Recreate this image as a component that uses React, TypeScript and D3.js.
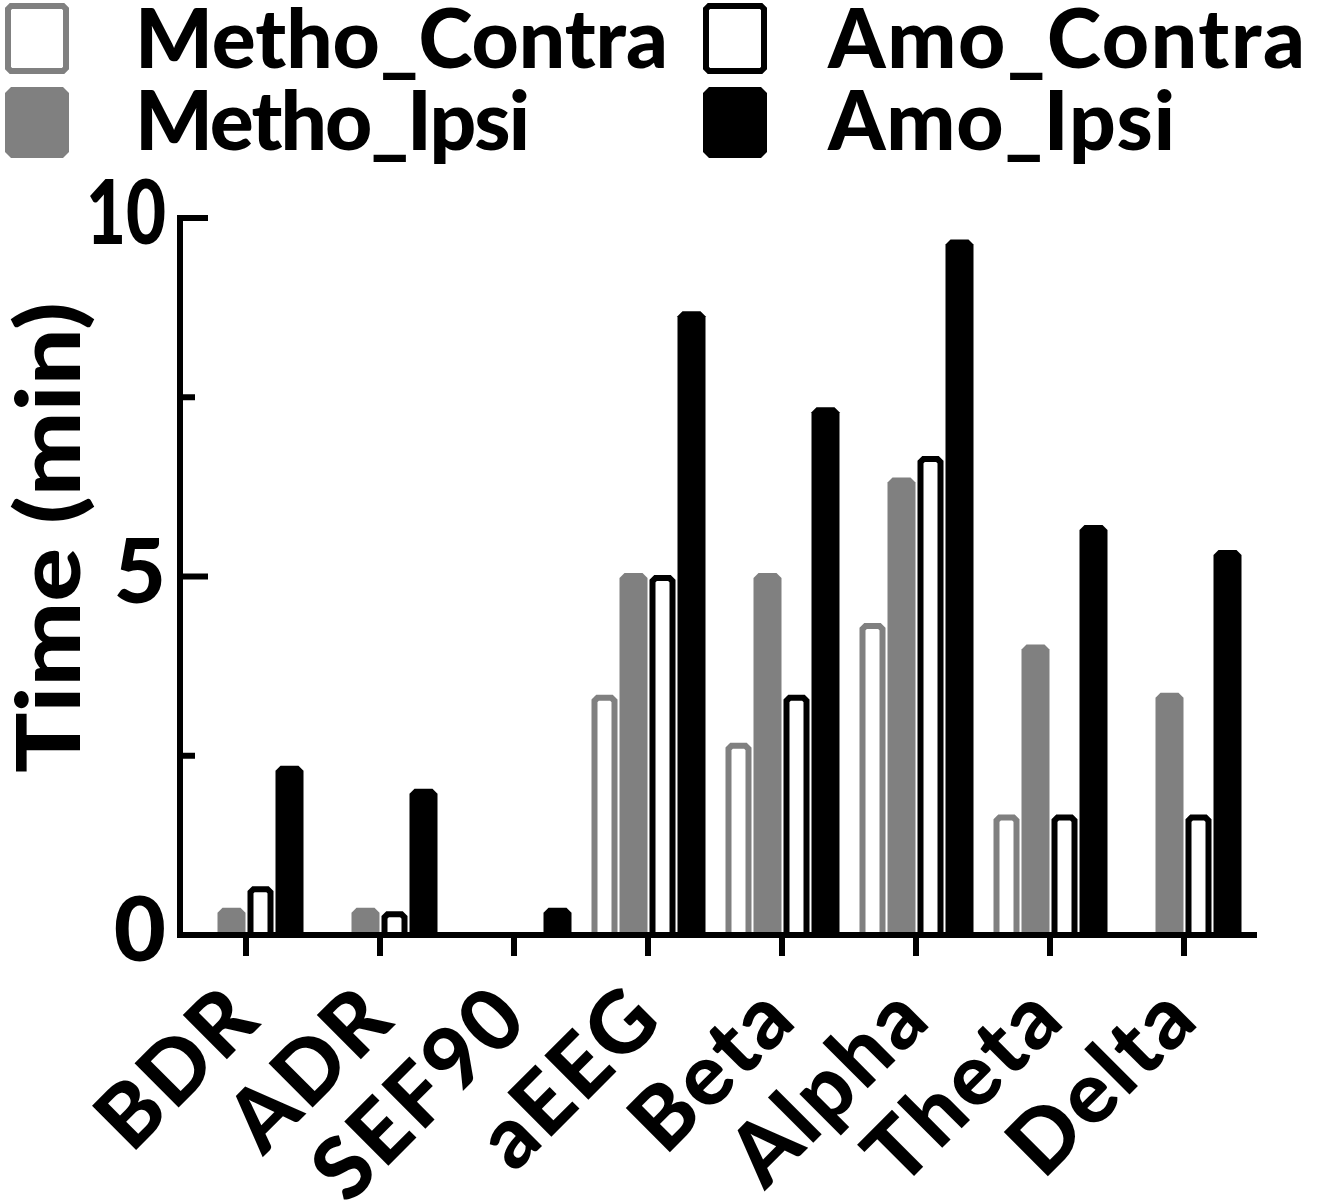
import React from "react";
import * as d3 from "d3";

const categories = ["BDR", "ADR", "SEF90", "aEEG", "Beta", "Alpha", "Theta", "Delta"];
const seriesNames = ["Metho_Contra", "Metho_Ipsi", "Amo_Contra", "Amo_Ipsi"];
const methoContra = [0, 0, 0, 3.35, 2.68, 4.35, 1.68, 0];
const methoIpsi = [0.38, 0.38, 0, 5.05, 5.05, 6.38, 4.05, 3.38];
const amoContra = [0.68, 0.33, 0, 5.02, 3.35, 6.68, 1.68, 1.68];
const amoIpsi = [2.36, 2.04, 0.38, 8.7, 7.36, 9.7, 5.72, 5.37];
const majorTicks = [0, 5, 10];
const minorTicks = [2.5, 7.5];

const W = 1342;
const H = 1203;
const FONT = "Lato, 'DejaVu Sans', sans-serif";

const seriesValues = [methoContra, methoIpsi, amoContra, amoIpsi];
const seriesStyle = [
  { fill: "#ffffff", stroke: "#808080", outline: true },
  { fill: "#808080", stroke: "none", outline: false },
  { fill: "#ffffff", stroke: "#000000", outline: true },
  { fill: "#000000", stroke: "none", outline: false },
];

function chamferPath(x0: number, x1: number, yTop: number, yBot: number, c: number) {
  const cc = Math.min(c, (x1 - x0) / 2, Math.max(0, (yBot - yTop) / 2));
  return `M${x0},${yBot}L${x0},${yTop + cc}L${x0 + cc},${yTop}L${x1 - cc},${yTop}L${x1},${yTop + cc}L${x1},${yBot}Z`;
}

function boxPath(x0: number, y0: number, x1: number, y1: number, c: number) {
  return `M${x0},${y0 + c}L${x0 + c},${y0}L${x1 - c},${y0}L${x1},${y0 + c}L${x1},${y1 - c}L${x1 - c},${y1}L${x0 + c},${y1}L${x0},${y1 - c}Z`;
}

export default function App() {
  const axisX = 180;
  const x = d3.scaleBand<string>().domain(categories).range([179, 179 + 134 * 8]).padding(0);
  const y = d3.scaleLinear().domain([0, 10]).range([935, 218]);
  const groupW = 116;

  const bars: JSX.Element[] = [];
  categories.forEach((cat, i) => {
    const cx = (x(cat) as number) + x.bandwidth() / 2;
    const inner = d3.scaleBand<string>().domain(seriesNames).range([cx - groupW / 2, cx + groupW / 2]).padding(0);
    seriesNames.forEach((s, k) => {
      const v = seriesValues[k][i];
      if (!v) return;
      const st = seriesStyle[k];
      const bx = inner(s) as number;
      const bw = inner.bandwidth();
      const yTop = y(v);
      const yBot = y(0);
      if (st.outline) {
        bars.push(
          <path key={`${cat}-${s}`} d={chamferPath(bx + 4.5, bx + bw - 4.5, yTop + 3, yBot, 3)}
            fill={st.fill} stroke={st.stroke} strokeWidth={6} />
        );
      } else {
        bars.push(
          <path key={`${cat}-${s}`} d={chamferPath(bx + 0.5, bx + bw - 0.5, yTop, yBot, 5)} fill={st.fill} />
        );
      }
    });
  });

  const legendItems = [
    { name: seriesNames[0], bx: 5, by: 3, tx: 135, ty: 68, tw: 533 },
    { name: seriesNames[1], bx: 5, by: 87, tx: 135, ty: 150, tw: 395 },
    { name: seriesNames[2], bx: 703, by: 3, tx: 828, ty: 68, tw: 477 },
    { name: seriesNames[3], bx: 703, by: 87, tx: 828, ty: 150, tw: 347 },
  ];

  return (
    <svg width={W} height={H} style={{ position: "absolute", left: 0, top: 0, background: "#fff" }}
      fontFamily={FONT} fontWeight={900}>
      <rect x={0} y={0} width={W} height={H} fill="#fff" />
      {legendItems.map((it, k) => {
        const st = seriesStyle[k];
        const bw = 64, bh = 71;
        return (
          <g key={it.name}>
            {st.outline ? (
              <path d={boxPath(it.bx + 3, it.by + 3, it.bx + bw - 3, it.by + bh - 3, 3)} fill="#fff" stroke={st.stroke} strokeWidth={6} />
            ) : (
              <path d={boxPath(it.bx, it.by, it.bx + bw, it.by + bh, 6)} fill={st.fill} />
            )}
            <text x={it.tx} y={it.ty} fontSize={82} fill="#000" textLength={it.tw} lengthAdjust="spacing">{it.name}</text>
          </g>
        );
      })}

      {bars}

      {/* y axis */}
      <line x1={axisX} x2={axisX} y1={y(10) - 3} y2={y(0) + 3} stroke="#000" strokeWidth={6} />
      {majorTicks.map((t) => (
        <g key={`mt${t}`}>
          <line x1={axisX} x2={208} y1={y(t)} y2={y(t)} stroke="#000" strokeWidth={6} />
          <text x={166} y={y(t) - 6} dy="0.36em" textAnchor="end" fontSize={90} fill="#000"
            textLength={t >= 10 ? 80 : undefined} lengthAdjust="spacingAndGlyphs">{t}</text>
        </g>
      ))}
      {minorTicks.map((t) => (
        <line key={`nt${t}`} x1={axisX} x2={195} y1={y(t)} y2={y(t)} stroke="#000" strokeWidth={6} />
      ))}
      <text transform={`translate(80,${(302 + 773) / 2}) rotate(-90)`} textAnchor="middle" fontSize={88} fill="#000"
        textLength={471} lengthAdjust="spacingAndGlyphs">Time (min)</text>

      {/* x axis */}
      <line x1={axisX - 3} x2={1257} y1={y(0)} y2={y(0)} stroke="#000" strokeWidth={6} />
      {categories.map((cat) => {
        const cx = (x(cat) as number) + x.bandwidth() / 2;
        return (
          <g key={`xt${cat}`}>
            <line x1={cx} x2={cx} y1={y(0)} y2={956} stroke="#000" strokeWidth={6} />
            <text transform={`translate(${cx + 18},1022) rotate(-45)`} textAnchor="end" fontSize={86} letterSpacing={3} fill="#000">{cat}</text>
          </g>
        );
      })}
    </svg>
  );
}
